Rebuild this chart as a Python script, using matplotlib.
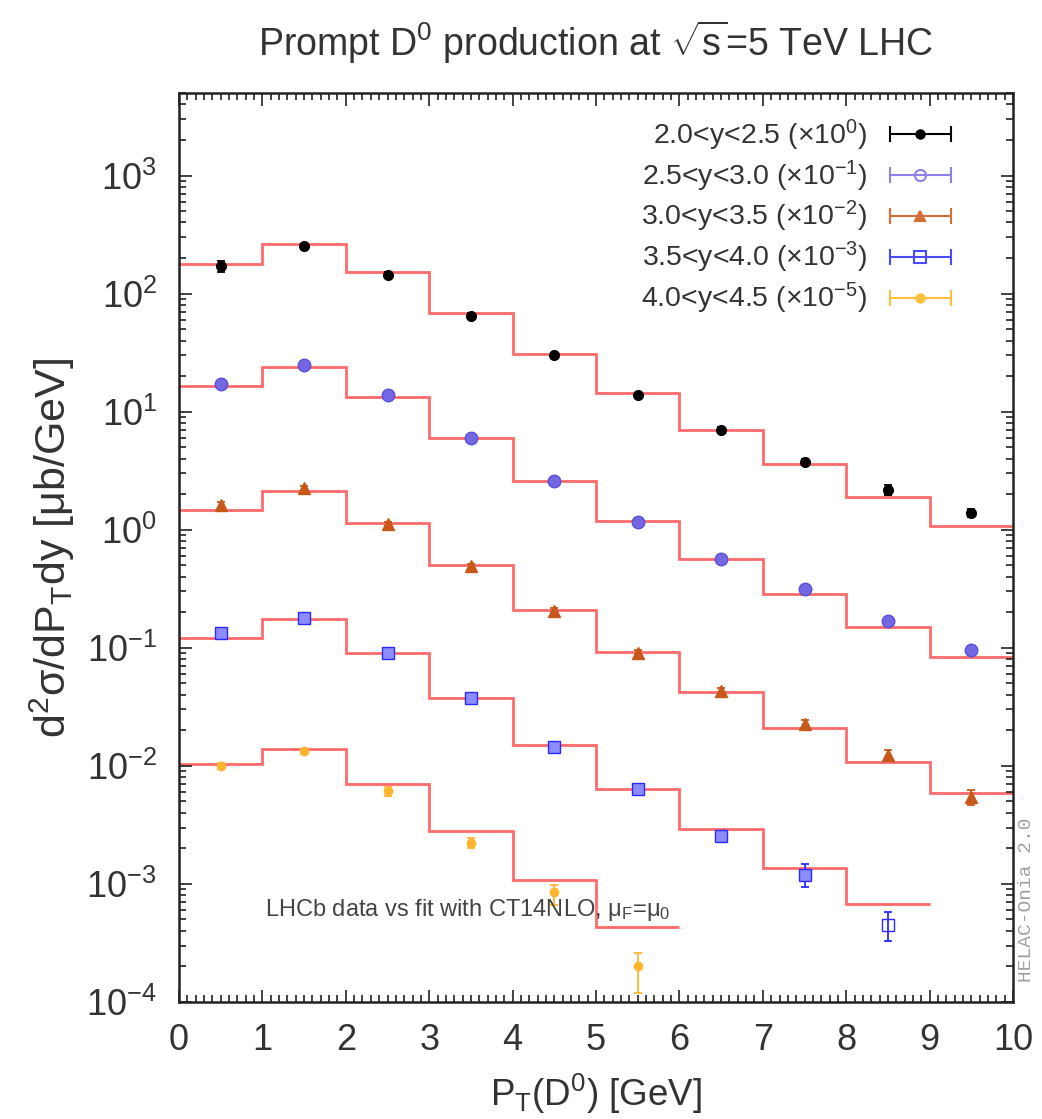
import numpy as np
import matplotlib
matplotlib.use("Agg")
import matplotlib.pyplot as plt
from matplotlib.ticker import (LogLocator, MultipleLocator, NullFormatter, FixedLocator,
                               LogFormatterSciNotation)
from matplotlib.container import ErrorbarContainer
from matplotlib.legend_handler import HandlerErrorbar
from matplotlib.lines import Line2D
from matplotlib.collections import LineCollection

plt.rcParams['font.family'] = ['Liberation Sans', 'DejaVu Sans']
plt.rcParams['mathtext.fontset'] = 'custom'
plt.rcParams['mathtext.rm'] = 'Liberation Sans'
plt.rcParams['mathtext.it'] = 'Liberation Sans:italic'
plt.rcParams['mathtext.bf'] = 'Liberation Sans:bold'

# ---------------- data (values as plotted, already scaled) ----------------
pt_edges = [0, 1, 2, 3, 4, 5, 6, 7, 8, 9, 10]
pt_centers = [0.5, 1.5, 2.5, 3.5, 4.5, 5.5, 6.5, 7.5, 8.5, 9.5]
y_decades = [1e-4, 1e-3, 1e-2, 1e-1, 1e0, 1e1, 1e2, 1e3]

labels = ["2.0<y<2.5 (\u00d710$^{0}$)",
          "2.5<y<3.0 (\u00d710$^{-1}$)",
          "3.0<y<3.5 (\u00d710$^{-2}$)",
          "3.5<y<4.0 (\u00d710$^{-3}$)",
          "4.0<y<4.5 (\u00d710$^{-5}$)"]

# fit (step histogram) values
fit_y1 = [179, 261, 151, 69, 31, 14.4, 7.0, 3.57, 1.91, 1.07]
fit_y2 = [16.4, 23.8, 13.4, 6.0, 2.61, 1.18, 0.567, 0.287, 0.150, 0.0834]
fit_y3 = [1.48, 2.12, 1.14, 0.499, 0.208, 0.092, 0.0425, 0.0210, 0.0108, 0.00583]
fit_y4 = [0.1216, 0.174, 0.0902, 0.0378, 0.0151, 0.0064, 0.00289, 0.00137, 0.000677]
fit_y5 = [0.01038, 0.0139, 0.00703, 0.0028, 0.00108, 0.000432]

# LHCb data points
dat_y1 = [171, 252, 145, 65, 30, 13.7, 7.0, 3.73, 2.18, 1.39]
err_y1 = [19, 12, 7, 3.2, 1.5, 0.7, 0.35, 0.22, 0.22, 0.12]
dat_y2 = [17.0, 24.6, 13.7, 5.97, 2.6, 1.16, 0.567, 0.316, 0.168, 0.095]
err_y2 = [0.8, 1.1, 0.6, 0.27, 0.12, 0.06, 0.03, 0.025, 0.014, 0.009]
dat_y3 = [1.61, 2.25, 1.12, 0.489, 0.206, 0.091, 0.0431, 0.0225, 0.0123, 0.00546]
err_y3 = [0.12, 0.10, 0.05, 0.022, 0.010, 0.005, 0.0025, 0.0018, 0.0014, 0.0008]
dat_y4 = [0.133, 0.180, 0.090, 0.0376, 0.0145, 0.0064, 0.00252, 0.00120]
err_y4 = [0.009, 0.012, 0.005, 0.0025, 0.001, 0.0005, 0.00025, 0.00026]
dat_y4_last_x = [8.5]
dat_y4_last = [0.000445]
err_y4_last_lo = [0.000118]
err_y4_last_hi = [0.000133]
dat_y5 = [0.00993, 0.0133, 0.0061, 0.00223, 0.00085, 0.000201]
err_y5_lo = [0.0006, 0.0007, 0.0005, 0.00022, 0.00019, 0.000082]
err_y5_hi = [0.0006, 0.0007, 0.0005, 0.00022, 0.00012, 0.00006]

colors = ['#000000', '#5a4fd8', '#c8581a', '#2b2bff', '#ffb52e']
leg_colors = ['#000000', '#8a82e6', '#d4703a', '#4a4aff', '#ffc040']
fit_color = '#ff6a6a'

fig = plt.figure(figsize=(10.42, 11.19), dpi=100)
ax = fig.add_axes([0.1718, 0.1046, 0.8004, 0.8123])

# fit steps
ax.stairs(fit_y1, pt_edges, baseline=None, color=fit_color, lw=2)
ax.stairs(fit_y2, pt_edges, baseline=None, color=fit_color, lw=2)
ax.stairs(fit_y3, pt_edges, baseline=None, color=fit_color, lw=2)
ax.stairs(fit_y4, pt_edges[:10], baseline=None, color=fit_color, lw=2)
ax.stairs(fit_y5, pt_edges[:7], baseline=None, color=fit_color, lw=2)

ekw = dict(capsize=3, elinewidth=1.3, capthick=1.3, ls='none')
ax.errorbar(pt_centers, dat_y1, yerr=err_y1, fmt='o', ms=7, color=colors[0], **ekw)
ax.errorbar(pt_centers, dat_y2, yerr=err_y2, fmt='o', ms=9, mfc='#7468e2',
            mec=colors[1], color=colors[1], **ekw)
ax.errorbar(pt_centers, dat_y3, yerr=err_y3, fmt='^', ms=9, color=colors[2], **ekw)
ax.errorbar(pt_centers[:8], dat_y4, yerr=err_y4, fmt='s', ms=8, mfc='#8c8cff',
            mec=colors[3], color=colors[3], **ekw)
ax.errorbar(dat_y4_last_x, dat_y4_last, yerr=[err_y4_last_lo, err_y4_last_hi], fmt='s',
            ms=8, mfc='none', mec=colors[3], color=colors[3], **ekw)
ax.errorbar(pt_centers[:6], dat_y5, yerr=[err_y5_lo, err_y5_hi], fmt='o', ms=6,
            color=colors[4], **ekw)

# legend proxies (horizontal error-bar samples with caps, gnuplot style)
markers = ['o', 'o', '^', 's', 'o']
msizes = [6, 8, 7, 8, 6]
mfcs = ['#000000', 'none', '#d4703a', 'none', '#ffc040']
handles = []
for c, m, s, f in zip(leg_colors, markers, msizes, mfcs):
    dline = Line2D([], [], marker=m, ms=s, ls='none', color=c, mfc=f, mec=c, mew=1.5)
    cap = Line2D([], [], marker='|', ms=12, mew=1.5, ls='none', color=c)
    bars = LineCollection([], colors=[c], linewidths=1.5)
    handles.append(ErrorbarContainer((dline, (cap,), (bars,)), has_xerr=True, has_yerr=False))
leg = ax.legend(handles, labels, loc='upper right', frameon=False, fontsize=20.5,
                markerfirst=False, handlelength=2.15, handletextpad=0.8,
                labelspacing=0.2, borderpad=0, borderaxespad=0,
                bbox_to_anchor=(0.9127, 0.895), bbox_transform=fig.transFigure,
                handler_map={ErrorbarContainer: HandlerErrorbar(xerr_size=1.07)})
for t in leg.get_texts():
    t.set_color('#333333')

ax.set_xlim(0, 10)
ax.set_yscale('log')
ax.set_ylim(1e-4, 5e3)
ax.xaxis.set_major_locator(MultipleLocator(1))
ax.xaxis.set_minor_locator(MultipleLocator(0.1))
ax.yaxis.set_major_locator(FixedLocator(y_decades))
ax.yaxis.set_major_formatter(LogFormatterSciNotation())
ax.yaxis.set_minor_locator(LogLocator(base=10, subs=np.arange(2, 10), numticks=20))
ax.yaxis.set_minor_formatter(NullFormatter())
ax.tick_params(which='both', direction='in', top=True, right=True, labelsize=26,
               width=1.2, color='#222222', labelcolor='#333333')
ax.tick_params(which='major', length=9)
ax.tick_params(which='minor', length=5)
ax.tick_params(axis='x', which='major', pad=15)
ax.tick_params(axis='y', which='major', pad=16)
for sp in ax.spines.values():
    sp.set_linewidth(1.8)
    sp.set_color('#222222')

ax.set_xlabel("P$_{\\mathrm{T}}$(D$^{0}$) [GeV]", fontsize=26.5, color='#333333')
ax.xaxis.set_label_coords(0.5, -0.077)
ax.set_ylabel("d$^{2}$\u03c3/dP$_{\\mathrm{T}}$dy [\u03bcb/GeV]", fontsize=31,
              color='#333333')
ax.yaxis.set_label_coords(-0.122, 0.5)

fig.text(0.572, 0.962, "Prompt D$^{0}$ production at $\\sqrt{\\mathrm{s}}$=5 TeV LHC",
         fontsize=27, color='#333333', ha='center', va='center')

ax.text(1.03, 6.0e-4, "LHCb data vs fit with CT14NLO, \u03bc$_{\\mathrm{F}}$=\u03bc$_{0}$",
        fontsize=17, color='#444444', va='center', ha='left')

fig.text(0.9856, 0.196, "HELAC-Onia 2.0", rotation=90, fontsize=14,
         family='Liberation Mono', color='#a0a0a0', va='center', ha='center')

fig.savefig("out.png", dpi=100)
